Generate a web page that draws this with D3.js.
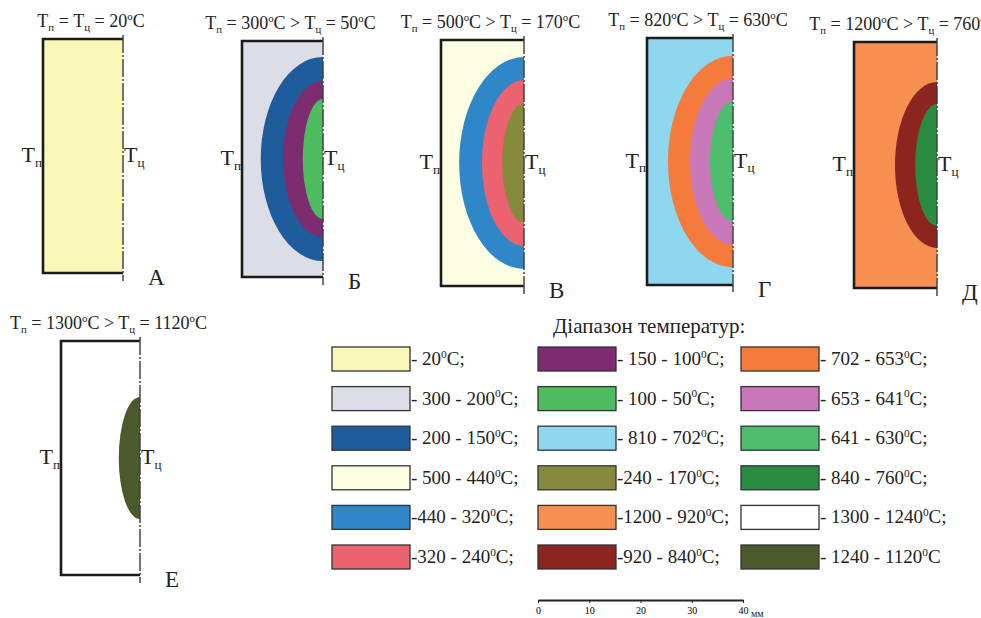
<!DOCTYPE html>
<html>
<head>
<meta charset="utf-8">
<script src="https://d3js.org/d3.v7.min.js"></script>
<title>Температурні поля</title>
<style>
body { margin: 0; background: #fff; }
</style>
</head>
<body>
<svg id="canvas" width="981" height="618"></svg>
<script>
// --- data ---
var panelNames = ["А", "Б", "В", "Г", "Д", "Е"];
var surfaceTemp = [20, 300, 500, 820, 1200, 1300];
var centerTemp = [20, 50, 170, 630, 760, 1120];
// range that fills the whole half-section
var backgroundRange = [0, 1, 3, 8, 10, 16];
// inner zones: range index, half-width from the axis (mm), half-height (mm)
var zoneRange = [[], [2, 6, 7], [4, 5, 9], [12, 13, 14], [11, 15], [17]];
var zoneRadius = [[], [12.3, 7.9, 4.0], [12.5, 8.1, 4.2], [12.1, 8.0, 4.3], [8.1, 4.2], [4.3]];
var zoneHalfHeight = [[], [19.9, 15.2, 11.7], [19.8, 15.5, 11.2], [19.7, 15.5, 11.2], [15.5, 11.4], [12.0]];
var sampleRadius = 16, sampleHeight = 46; // mm

var rangeLabels = ["- 20", "- 300 - 200", "- 200 - 150", "- 500 - 440", "-440 - 320", "-320 - 240",
                   "- 150 - 100", "- 100 - 50", "- 810 - 702", "-240 - 170", "-1200 - 920", "-920 - 840",
                   "- 702 - 653", "- 653 - 641", "- 641 - 630", "- 840 - 760", "- 1300 - 1240", "- 1240 - 1120"];
var rangeColors = ["#f8f7b8", "#dcdde6", "#1f5c9c", "#fdfde2", "#3087c8", "#ec6270",
                   "#7d2c70", "#4cbc5e", "#8fd6ef", "#878a3c", "#f68f50", "#8c2420",
                   "#f57b3c", "#c877b8", "#4fbd6e", "#2a8c42", "#ffffff", "#4b5a2c"];
var scaleTicks = [0, 10, 20, 30, 40];

// --- layout ---
var boxes = [
    {l: 43, r: 123, t: 39, b: 273},
    {l: 242, r: 323, t: 41, b: 277},
    {l: 441, r: 524, t: 40, b: 286},
    {l: 647, r: 733, t: 38, b: 285},
    {l: 854, r: 937, t: 42, b: 288},
    {l: 61, r: 140, t: 341, b: 575}
];
var serif = "'Liberation Serif', 'Times New Roman', Times, serif";

var svg = d3.select("#canvas");

function tempText(sel, parts, size) {
    // parts: [text, kind]; sub/sup shift the baseline, n2/n3 bring it back
    sel.style("font-family", serif).style("fill", "#222");
    parts.forEach(function(p) {
        var ts = sel.append("tspan").text(p[0]);
        if (p[1] == "sub") ts.attr("font-size", size * 0.6).attr("dy", size * 0.22);
        if (p[1] == "sup") ts.attr("font-size", size * 0.6).attr("dy", -size * 0.38);
        if (p[1] == "n2") ts.attr("dy", -size * 0.22);
        if (p[1] == "n3") ts.attr("dy", size * 0.38);
    });
}

boxes.forEach(function(bx, i) {
    var g = svg.append("g");
    var x = d3.scaleLinear().domain([0, sampleRadius]).range([bx.r, bx.l]);
    var y = d3.scaleLinear().domain([-sampleHeight / 2, sampleHeight / 2]).range([bx.t, bx.b]);

    g.append("clipPath").attr("id", "clip" + i)
        .append("rect").attr("x", bx.l).attr("y", bx.t).attr("width", bx.r - bx.l).attr("height", bx.b - bx.t);

    g.append("rect")
        .attr("x", bx.l).attr("y", bx.t).attr("width", bx.r - bx.l).attr("height", bx.b - bx.t)
        .style("fill", rangeColors[backgroundRange[i]]);

    g.append("g").attr("clip-path", "url(#clip" + i + ")")
        .selectAll("ellipse").data(zoneRange[i]).enter()
        .append("ellipse")
        .attr("cx", x(0))
        .attr("cy", y(0))
        .attr("rx", function(d, j) { return x(0) - x(zoneRadius[i][j]); })
        .attr("ry", function(d, j) { return y(zoneHalfHeight[i][j]) - y(0); })
        .style("fill", function(d) { return rangeColors[d]; });

    // outline (surface, ends) and dash-dot axis
    g.append("path")
        .attr("d", "M" + bx.r + "," + bx.t + "H" + bx.l + "V" + bx.b + "H" + bx.r)
        .style("fill", "none").style("stroke", "#1b1b1b").style("stroke-width", 2.6);
    g.append("line")
        .attr("x1", bx.r).attr("x2", bx.r).attr("y1", bx.t - 4).attr("y2", bx.b + 8)
        .style("stroke", "#3a3a3a").style("stroke-width", 1.4)
        .style("stroke-dasharray", "18,2,2,2");

    // title
    var fs = 18;
    var title = g.append("text")
        .attr("x", (bx.l + bx.r) / 2 + 8).attr("y", bx.t - 12)
        .attr("text-anchor", "middle").attr("font-size", fs);
    if (surfaceTemp[i] == centerTemp[i]) {
        tempText(title, [["T", "n"], ["п", "sub"], [" = T", "n2"], ["ц", "sub"], [" = " + surfaceTemp[i], "n2"], ["o", "sup"], ["C", "n3"]], fs);
    } else {
        tempText(title, [["T", "n"], ["п", "sub"], [" = " + surfaceTemp[i], "n2"], ["o", "sup"], ["C > T", "n3"], ["ц", "sub"],
            [" = " + centerTemp[i], "n2"], ["o", "sup"], ["C", "n3"]], fs);
    }

    // side labels
    var ls = 22;
    var tp = g.append("text").attr("x", bx.l - 1).attr("y", y(0) + 6).attr("text-anchor", "end").attr("font-size", ls);
    tempText(tp, [["T", "n"], ["п", "sub"]], ls);
    var tc = g.append("text").attr("x", bx.r + 1).attr("y", y(0) + 6).attr("font-size", ls);
    tempText(tc, [["T", "n"], ["ц", "sub"]], ls);

    g.append("text").attr("x", bx.r + 25).attr("y", bx.b + 12)
        .attr("font-size", 23).style("font-family", serif).style("fill", "#222").text(panelNames[i]);
});

// --- legend ---
var colX = [332, 538, 741];
var rowY = d3.scaleLinear().domain([0, 5]).range([347, 545]);
var sw = 78, sh = 24;

svg.append("text").attr("x", 553).attr("y", 333).attr("font-size", 21)
    .style("font-family", serif).style("fill", "#222").text("Діапазон температур:");

var items = svg.append("g").selectAll("g").data(rangeLabels).enter().append("g")
    .attr("transform", function(d, i) {
        return "translate(" + colX[Math.floor(i / 6)] + "," + rowY(i % 6) + ")";
    });
items.append("rect")
    .attr("width", sw).attr("height", sh)
    .style("fill", function(d, i) { return rangeColors[i]; })
    .style("stroke", "#333").style("stroke-width", 1.3);
items.each(function(d, i) {
    var t = d3.select(this).append("text").attr("x", sw + 1).attr("y", sh / 2 + 6).attr("font-size", 19);
    tempText(t, [[d, "n"], ["0", "sup"], [i == 17 ? "C" : "C;", "n3"]], 19);
});

// --- scale bar ---
var mm = d3.scaleLinear().domain([0, 40]).range([538, 743]);
var bar = svg.append("g").attr("transform", "translate(0,600)")
    .call(d3.axisBottom(mm).tickValues(scaleTicks).tickSize(3).tickSizeOuter(0));
bar.select(".domain").style("stroke", "#222").style("stroke-width", 2);
bar.selectAll(".tick line").style("stroke", "#222");
bar.selectAll(".tick text").attr("font-size", 10).style("font-family", serif).attr("y", 7);
svg.append("text").attr("x", 751).attr("y", 617).attr("font-size", 10)
    .style("font-family", serif).style("fill", "#222").text("мм");
</script>
</body>
</html>
